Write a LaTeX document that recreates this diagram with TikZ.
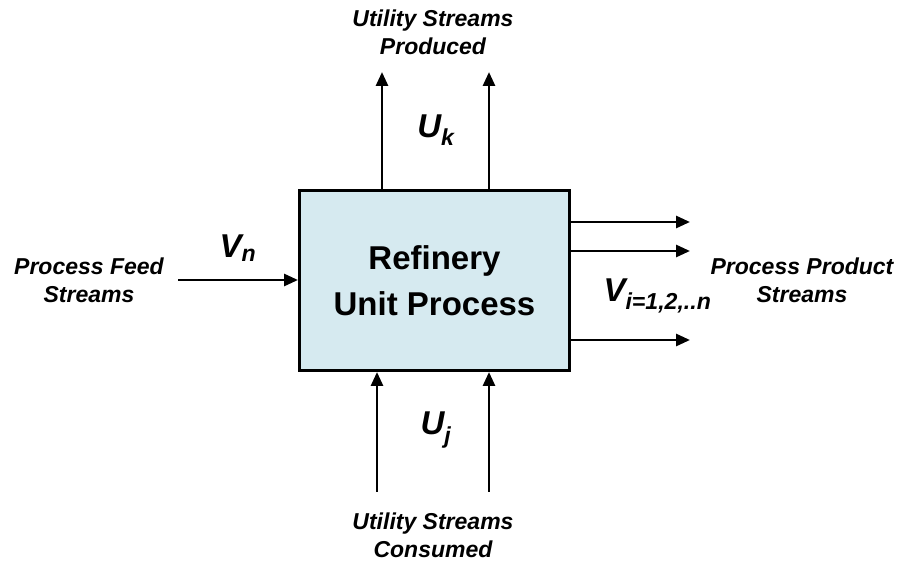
\documentclass[tikz,border=0pt]{standalone}
\usepackage{fontspec}
\setmainfont{Liberation Sans}
\usetikzlibrary{arrows.meta}

\begin{document}
\begin{tikzpicture}[x=1pt,y=-1pt,
    stream/.style={line width=2.8pt,-{Triangle[length=14pt,width=12pt]}},
    lbl/.style={font=\fontsize{23}{28}\selectfont\bfseries\itshape,align=center},
    sym/.style={font=\fontsize{33}{36}\selectfont\bfseries\itshape}]
		\useasboundingbox (0,0) rectangle (898,561);
		\node[draw,line width=3pt,fill={rgb,255:red,214;green,234;blue,240},
		      minimum width=270pt,minimum height=180pt,inner sep=0pt,
		      font=\fontsize{33}{46}\selectfont\bfseries,align=center]
		      (unit) at (434.5,280.5) {Refinery\\Unit Process};
		% free ends of the streams
		\coordinate (feed) at (178,280);
		\foreach \name/\y in {pa/222,pb/251,pc/340} {
				\coordinate (\name) at (690,\y);
			}
		\coordinate (ka) at (382,72);
		\coordinate (kb) at (489,72);
		\coordinate (ja) at (377,492);
		\coordinate (jb) at (489,492);
		% streams
		\draw[stream] (feed) -- (unit.west |- feed);
		\foreach \name in {pa,pb,pc} {
				\draw[stream] (unit.east |- \name) -- (\name);
			}
		\foreach \name in {ka,kb} {
				\draw[stream] (unit.north -| \name) -- (\name);
			}
		\foreach \name in {ja,jb} {
				\draw[stream] (\name) -- (unit.south -| \name);
			}
		% labels
		\node[lbl] (prod) at (433,32) {Utility Streams\\Produced};
		\node[lbl] (cons) at (433,535) {Utility Streams\\Consumed};
		\node[lbl] (feedtxt) at (89,280) {Process Feed\\Streams};
		\node[lbl] (prodtxt) at (802,280) {Process Product\\Streams};
		\node[sym] (uk) at (436,130) {U\textsubscript{k}};
		\node[sym] (uj) at (436,430) {U\textsubscript{j}};
		\node[sym] (vn) at (238,248) {V\textsubscript{n}};
		\node[sym,anchor=west] (vi) at (600,296) {V\textsubscript{i=1,2,..n}};
	\end{tikzpicture}
\end{document}
